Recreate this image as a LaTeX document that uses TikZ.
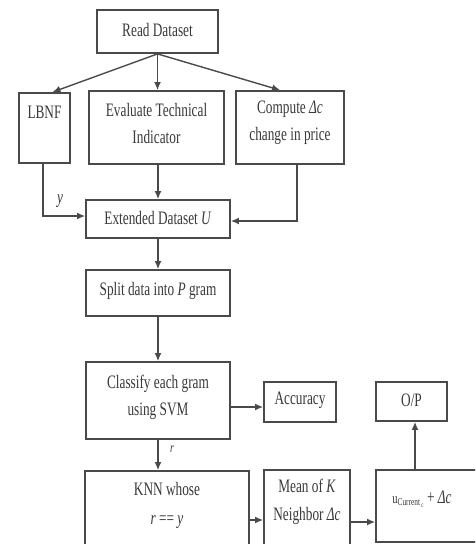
\documentclass[tikz,border=0pt]{standalone}
\usepackage{fontspec}
\setmainfont[FakeStretch=0.7]{Liberation Serif}
\usetikzlibrary{arrows.meta}
\definecolor{ln}{HTML}{4A4A4A}
\definecolor{tx}{HTML}{3A3A3A}
\begin{document}
\begin{tikzpicture}[x=1pt,y=-1pt,
  box/.style={draw=ln,line width=1.8pt,rectangle,inner sep=0pt},
  txt/.style={text=tx,font=\fontsize{19}{27}\selectfont,align=center,inner sep=0pt},
  arr/.style={draw=ln,line width=1.4pt,-{Latex[length=8pt,width=7pt]}}]
\useasboundingbox (0,0) rectangle (475,544);
\clip (0,0) rectangle (475,544);
\fill[white] (0,0) rectangle (475,544);
% boxes
\node[box,minimum width=121,minimum height=43] (read) at (157.5,31.5) {};
\node[box,minimum width=51,minimum height=70] (lbnf) at (44.5,128) {};
\node[box,minimum width=135,minimum height=73] (eval) at (156.5,127.5) {};
\node[box,minimum width=108,minimum height=73] (comp) at (290,127.5) {};
\node[box,minimum width=144,minimum height=38] (ext) at (158,219) {};
\node[box,minimum width=144,minimum height=46] (split) at (158,293) {};
\node[box,minimum width=144,minimum height=77] (cls) at (158,400.5) {};
\node[box,minimum width=72,minimum height=40] (acc) at (300,402) {};
\node[box,minimum width=71,minimum height=39] (op) at (411.5,401.5) {};
\node[box,minimum width=164,minimum height=89] (knn) at (167,515.5) {};
\node[box,minimum width=86,minimum height=90] (mean) at (307,515) {};
\node[box,minimum width=114,minimum height=72] (ubox) at (433,506) {};
% texts
\node[txt] (tread) at (157.5,30) {Read Dataset};
\node[txt] (tlbnf) at (44.5,112) {LBNF};
\node[txt] (teval) at (156.5,123) {Evaluate Technical\\Indicator};
\node[txt] (tcomp) at (290,123) {Compute \textit{Δc}\\change in price};
\node[txt] (text) at (158,218) {Extended Dataset \textit{U}};
\node[txt] (tsplit) at (158,291) {Split data into \textit{P} gram};
\node[txt] (tcls) at (158,397) {Classify each gram\\using SVM};
\node[txt] (tacc) at (300,400) {Accuracy};
\node[txt] (top) at (411.5,400) {O/P};
\node[txt,font=\fontsize{19}{29}\selectfont] (tknn) at (167,505) {KNN whose\\\textit{r} == \textit{y}};
\node[txt,font=\fontsize{19}{28}\selectfont] (tmean) at (307,502) {Mean of \textit{K}\\Neighbor \textit{Δc}};
\node[txt] (tu) at (422,499) {\fontsize{15}{17}\selectfont u\textsubscript{Current\textsubscript{\,c}}\,\fontsize{19}{27}\selectfont+ \textit{Δc}};
% labels
\node[txt,font=\fontsize{19}{27}\selectfont\itshape] (ly) at (60,201) {y};
\node[txt,font=\fontsize{14}{16}\selectfont\itshape] (lr) at (172,449) {r};
% connectors
\draw[arr] (read.south) -- ([xshift=8pt]lbnf.north);
\draw[arr] (read.south) -- (read.south |- eval.north);
\draw[arr] (read.south) -- ([xshift=-10pt]comp.north);
\coordinate (extin1) at ([yshift=3pt]ext.west);
\coordinate (extin2) at ([yshift=-2pt]ext.east);
\draw[arr] ([xshift=-1.5pt]lbnf.south) |- (extin1);
\draw[arr] (ext.north |- eval.south) -- (ext.north);
\draw[arr] ([xshift=7pt]comp.south) |- (extin2);
\draw[arr] (ext.south) -- (split.north);
\draw[arr] (split.south) -- (cls.north);
\coordinate (accin) at ([yshift=-5pt]acc.west);
\draw[arr] (cls.east |- accin) -- (accin);
\draw[arr] (cls.south) -- (cls.south |- knn.north);
\coordinate (meanin) at ([yshift=-5pt]mean.west);
\draw[arr] (knn.east |- meanin) -- (meanin);
\coordinate (uin) at ([yshift=-7pt]mean.east);
\draw[arr] (uin) -- (ubox.west |- uin);
\coordinate (opout) at ([xshift=3.5pt]op.south);
\draw[arr] (opout |- ubox.north) -- (opout);
\end{tikzpicture}
\end{document}
